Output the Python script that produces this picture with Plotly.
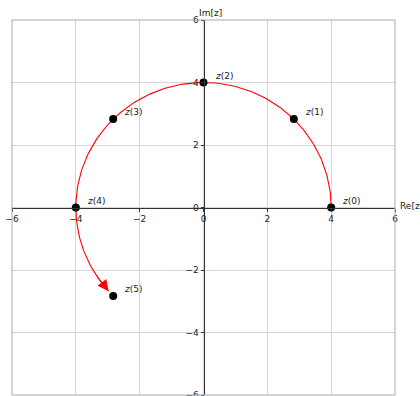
import numpy as np
import plotly.graph_objects as go

# points z(k) on the circle of radius 4
Z_RE = [4.0, 2.83, 0.0, -2.83, -4.0, -2.83]
Z_IM = [0.0, 2.83, 4.0, 2.83, 0.0, -2.83]
Z_LABELS = ["<i>z</i>(0)", "<i>z</i>(1)", "<i>z</i>(2)", "<i>z</i>(3)", "<i>z</i>(4)", "<i>z</i>(5)"]

RADIUS = 4.0
ARC_END_DEG = 222      # where the arrow tip sits, just short of z(5)
ARROW_TAIL_DEG = 212

TICKS = [-6, -4, -2, 0, 2, 4, 6]
FONT = dict(family="DejaVu Sans", size=9, color="#222")

theta = np.radians(np.linspace(0, ARC_END_DEG, 200))
arc_x = RADIUS * np.cos(theta)
arc_y = RADIUS * np.sin(theta)

fig = go.Figure()
fig.add_trace(go.Scatter(x=arc_x, y=arc_y, mode="lines",
                         line=dict(color="red", width=1.1), hoverinfo="skip"))
fig.add_trace(go.Scatter(x=Z_RE, y=Z_IM, mode="markers",
                         marker=dict(color="black", size=8)))

tip = np.radians(ARC_END_DEG)
tail = np.radians(ARROW_TAIL_DEG)
fig.add_annotation(x=RADIUS * np.cos(tip), y=RADIUS * np.sin(tip),
                   ax=RADIUS * np.cos(tail), ay=RADIUS * np.sin(tail),
                   xref="x", yref="y", axref="x", ayref="y", text="",
                   showarrow=True, arrowhead=2, arrowsize=2.2, arrowwidth=1,
                   arrowcolor="red")

for xr, yi, lab in zip(Z_RE, Z_IM, Z_LABELS):
    fig.add_annotation(x=xr, y=yi, text=lab, showarrow=False, xanchor="left",
                       yanchor="middle", xshift=9, yshift=7, font=FONT)

fig.add_annotation(x=6, y=0, text="Re[z]", showarrow=False, xanchor="left",
                   yanchor="middle", xshift=3, yshift=2, font=FONT)
fig.add_annotation(x=0, y=6, text="Im[z]", showarrow=False, xanchor="left",
                   yanchor="bottom", xshift=-7, yshift=0, font=FONT)

fig.add_shape(type="rect", xref="paper", yref="paper", x0=0, y0=0, x1=1, y1=1,
              line=dict(color="#a8a8a8", width=1))

axis_style = dict(range=[-6, 6], tickvals=TICKS, showgrid=True, gridcolor="#d6d6d6",
                  gridwidth=1, zeroline=False, showline=True, linecolor="#333",
                  linewidth=1, ticks="outside", ticklen=3, tickcolor="#333",
                  tickfont=FONT, anchor="free", position=0.5,
                  ticklabeloverflow="allow", automargin=False)
fig.update_xaxes(**axis_style)
fig.update_yaxes(**axis_style)

fig.update_layout(width=420, height=396, margin=dict(l=12, r=25, t=20, b=1),
                  plot_bgcolor="white", paper_bgcolor="white", showlegend=False)
# drop the default page margin so the figure fills the window exactly
fig.write_html("out.html", config={"displayModeBar": False},
               post_script="document.body.style.margin='0';document.body.style.overflow='hidden';")
